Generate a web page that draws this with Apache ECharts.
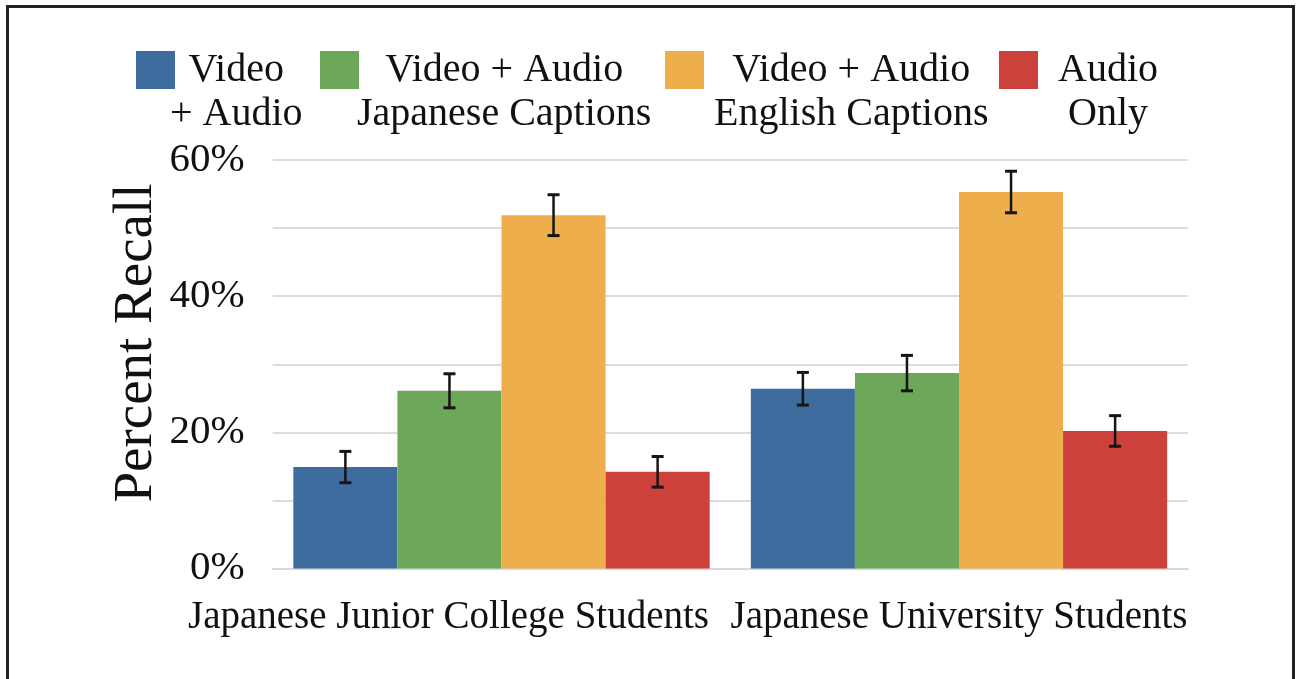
<!DOCTYPE html>
<html>
<head>
<meta charset="utf-8">
<script src="https://cdn.jsdelivr.net/npm/echarts@6/dist/echarts.min.js"></script>
<style>
  html, body { margin: 0; padding: 0; background: #ffffff; }
  #chart { width: 1301px; height: 679px; }
</style>
</head>
<body>
<div id="chart"></div>
<script>
// ---- data ----
const categories = ['Japanese Junior College Students', 'Japanese University Students'];
const seriesNames = ['Video + Audio', 'Video + Audio Japanese Captions', 'Video + Audio English Captions', 'Audio Only'];
const legendLines = [['Video', '+ Audio'], ['Video + Audio', 'Japanese Captions'], ['Video + Audio', 'English Captions'], ['Audio', 'Only']];
const videoAudio = [14.9, 26.4];
const videoAudioJapanese = [26.1, 28.7];
const videoAudioEnglish = [51.9, 55.3];
const audioOnly = [14.2, 20.2];
const videoAudioErr = [2.3, 2.4];
const videoAudioJapaneseErr = [2.5, 2.6];
const videoAudioEnglishErr = [3.0, 3.05];
const audioOnlyErr = [2.25, 2.25];
const yAxisTitle = 'Percent Recall';

// ---- styling ----
const FONT = '"Liberation Serif", "Times New Roman", serif';
const colors = ['#3f6c9f', '#6ca75a', '#edae4b', '#cd413c'];
const values = [videoAudio, videoAudioJapanese, videoAudioEnglish, audioOnly];
const errors = [videoAudioErr, videoAudioJapaneseErr, videoAudioEnglishErr, audioOnlyErr];
const CAT_GAP = 0.09;
const legendLefts = [136, 320, 665, 999];
const legendPadLeft = [-10, -7, 5, 15];

const chart = echarts.init(document.getElementById('chart'), null, { renderer: 'canvas' });

const barSeries = seriesNames.map((name, i) => ({
  name: name,
  type: 'bar',
  data: values[i],
  barGap: '0%',
  barCategoryGap: (CAT_GAP * 100) + '%',
  itemStyle: { color: colors[i] },
  z: 2
}));

const errorSeries = seriesNames.map((name, i) => ({
  name: name,
  type: 'custom',
  z: 5,
  data: values[i].map((v, k) => [k, v - errors[i][k], v + errors[i][k]]),
  renderItem: function (params, api) {
    const cat = api.value(0);
    const lo = api.coord([cat, api.value(1)]);
    const hi = api.coord([cat, api.value(2)]);
    const catW = api.size([1, 0])[0];
    const barW = catW * (1 - CAT_GAP) / 4;
    const x = lo[0] + (i - 1.5) * barW;
    const cap = 6;
    const st = { stroke: '#151515', lineWidth: 2.5 };
    return {
      type: 'group',
      children: [
        { type: 'line', shape: { x1: x, y1: lo[1], x2: x, y2: hi[1] }, style: st },
        { type: 'line', shape: { x1: x - cap, y1: lo[1], x2: x + cap, y2: lo[1] }, style: { stroke: '#151515', lineWidth: 3 } },
        { type: 'line', shape: { x1: x - cap, y1: hi[1], x2: x + cap, y2: hi[1] }, style: { stroke: '#151515', lineWidth: 3 } }
      ]
    };
  },
  silent: true
}));

const legends = seriesNames.map((name, i) => ({
  data: [name],
  left: legendLefts[i],
  top: 4,
  padding: 0,
  icon: 'rect',
  itemWidth: 39,
  itemHeight: 38,
  formatter: function () {
    return '{c|' + legendLines[i][0] + '}\n{c|' + legendLines[i][1] + '}';
  },
  textStyle: {
    fontFamily: FONT,
    fontSize: 40,
    color: '#111',
    lineHeight: 44,
    padding: [44, 0, 0, legendPadLeft[i]],
    rich: {
      c: { fontFamily: FONT, fontSize: 40, color: '#111', lineHeight: 44, align: 'center' }
    }
  }
}));

const option = {
  backgroundColor: '#ffffff',
  animation: false,
  color: colors,
  legend: legends,
  grid: { left: 272.75, right: 113.25, top: 160, bottom: 110.5, containLabel: false },
  xAxis: {
    type: 'category',
    data: categories.map((c, k) => k === 0
      ? { value: c, textStyle: { padding: [0, 106, 0, 0] } }
      : { value: c }),
    axisLine: { show: true, lineStyle: { color: '#d9d9d9', width: 2 } },
    axisTick: { show: false },
    axisLabel: { fontFamily: FONT, fontSize: 39, color: '#111', margin: 30, interval: 0 }
  },
  yAxis: {
    type: 'value',
    min: 0,
    max: 60,
    interval: 10,
    axisLine: { show: false },
    axisTick: { show: false },
    splitLine: { lineStyle: { color: '#dcdcdc', width: 2 } },
    axisLabel: {
      fontFamily: FONT, fontSize: 41, color: '#111', margin: 28,
      formatter: v => (v % 20 === 0 ? v + '%' : '')
    }
  },
  graphic: [
    {
      type: 'text',
      x: 137, y: 343,
      rotation: Math.PI / 2,
      style: {
        text: yAxisTitle,
        font: '55px ' + FONT,
        fill: '#111',
        align: 'center',
        verticalAlign: 'middle'
      }
    },
    {
      type: 'rect',
      shape: { x: 7.5, y: 6.5, width: 1286, height: 700 },
      style: { fill: 'none', stroke: '#222', lineWidth: 3 },
      silent: true
    }
  ],
  series: barSeries.concat(errorSeries)
};

chart.setOption(option);
</script>
</body>
</html>
